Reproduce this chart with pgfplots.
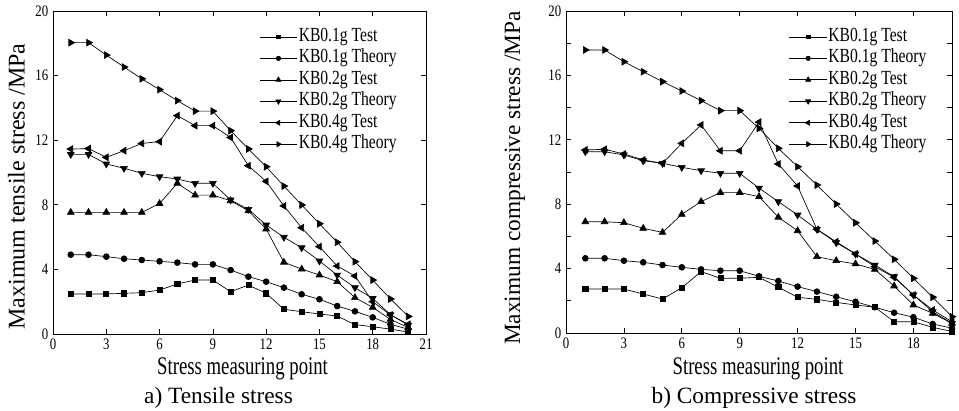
\documentclass[border=0pt]{standalone}
\usepackage{fontspec}
\setmainfont{Liberation Serif}
\newfontfamily\tickfont[FakeStretch=0.8]{Liberation Serif}
\newfontfamily\xlabfont[FakeStretch=0.74]{Liberation Serif}
\newfontfamily\legfont[FakeStretch=0.78]{Liberation Serif}
\usepackage{pgfplots}
\usepackage{pgfplotstable}
\pgfplotsset{compat=1.18}

\pgfplotstableread{
x s1 c1 u2 d2 l4 r4
1 2.48 4.91 7.53 11.12 11.45 18.04
2 2.48 4.91 7.53 11.12 11.48 18.04
3 2.48 4.79 7.53 10.53 10.94 17.27
4 2.52 4.66 7.53 10.26 11.35 16.53
5 2.56 4.58 7.53 9.95 11.80 15.80
6 2.72 4.50 8.08 9.74 11.91 15.13
7 3.10 4.42 9.33 9.60 13.52 14.45
8 3.34 4.31 8.60 9.33 12.90 13.80
9 3.34 4.31 8.60 9.33 12.90 13.80
10 2.62 3.96 8.25 8.30 12.17 12.59
11 3.03 3.55 7.63 7.72 10.42 11.46
12 2.52 3.24 6.50 6.75 9.45 10.36
13 1.53 2.87 4.44 5.99 7.93 9.16
14 1.38 2.46 4.02 5.34 6.58 7.99
15 1.24 2.15 3.65 4.52 5.41 6.83
16 1.11 1.73 3.24 3.65 4.21 5.68
17 0.58 1.40 2.25 2.87 3.59 4.48
18 0.45 1.03 1.65 2.20 2.00 3.34
19 0.30 0.60 0.90 1.20 1.18 2.17
20 0.12 0.30 0.40 0.55 0.60 1.09
}\tensile

\pgfplotstableread{
x s1 c1 u2 d2 l4 r4
1 2.73 4.64 6.91 11.26 11.37 17.58
2 2.73 4.64 6.91 11.26 11.41 17.58
3 2.73 4.49 6.85 11.06 11.12 16.85
4 2.42 4.39 6.50 10.70 10.75 16.23
5 2.11 4.22 6.25 10.54 10.54 15.61
6 2.81 4.08 7.37 10.29 11.78 15.03
7 3.81 3.95 8.16 10.08 12.92 14.43
8 3.40 3.87 8.72 9.92 11.32 13.81
9 3.40 3.87 8.72 9.92 11.32 13.81
10 3.46 3.52 8.47 9.00 13.10 12.71
11 2.84 3.23 7.19 8.16 10.50 11.47
12 2.22 2.88 6.35 7.33 9.13 10.33
13 2.09 2.57 4.74 6.44 6.44 9.19
14 1.90 2.25 4.49 5.61 5.67 8.01
15 1.74 1.94 4.29 4.91 4.91 6.85
16 1.60 1.60 3.95 4.22 4.12 5.71
17 0.70 1.26 2.92 3.50 3.46 4.58
18 0.70 0.98 1.74 2.36 2.36 3.40
19 0.35 0.56 1.22 1.32 1.43 2.22
20 0.10 0.30 0.60 0.60 0.70 1.01
}\compressive

\pgfplotsset{
  chartstyle/.style={
    scale only axis,
    axis line style={line width=0.6pt},
    tick label style={font=\tickfont\fontsize{12}{12}\selectfont},
    /pgf/number format/assume math mode=true,
    tick align=inside,
    major tick length=4pt, minor tick length=4pt,
    every tick/.style={black, line width=0.5pt},
    ymin=0, ymax=20,
    legend cell align=left,
    legend image code/.code={\draw[mark repeat=2,mark phase=2,#1,every mark/.append style={scale=0.75}] plot coordinates {(0pt,0pt) (14pt,0pt) (28pt,0pt)};},
    legend style={draw=none, fill=none, anchor=north west,
      font=\legfont\fontsize{15}{15}\selectfont, row sep=1pt,
      nodes={inner sep=1pt, text height=10pt, text depth=3.1pt}},
  },
  ser/.style={black, line width=0.5pt},
}

\begin{document}
\begin{tikzpicture}
\path[use as bounding box] (0,0) rectangle (719.25pt,307.5pt);

\begin{axis}[chartstyle,
  at={(39.75pt,57pt)}, anchor=south west,
  width=279.75pt, height=242.25pt,
  xmin=0, xmax=21, xtick={0,3,...,21},
  ytick={0,4,...,20},
  legend style={at={(0.542,0.96)}},
]
\addplot[ser, mark=square*, mark size=1.9pt] table[x=x,y=s1]{\tensile};
\addlegendentry{KB0.1g Test}
\addplot[ser, mark=*, mark size=2.2pt] table[x=x,y=c1]{\tensile};
\addlegendentry{KB0.1g Theory}
\addplot[ser, mark=triangle*, mark size=2.9pt] table[x=x,y=u2]{\tensile};
\addlegendentry{KB0.2g Test}
\addplot[ser, mark=triangle*, mark size=2.9pt, mark options={rotate=180}] table[x=x,y=d2]{\tensile};
\addlegendentry{KB0.2g Theory}
\addplot[ser, mark=triangle*, mark size=2.9pt, mark options={rotate=90}] table[x=x,y=l4]{\tensile};
\addlegendentry{KB0.4g Test}
\addplot[ser, mark=triangle*, mark size=2.9pt, mark options={rotate=-90}] table[x=x,y=r4]{\tensile};
\addlegendentry{KB0.4g Theory}
\end{axis}

\begin{axis}[chartstyle,
  at={(424.5pt,57.75pt)}, anchor=south west,
  width=289.5pt, height=241.5pt,
  xmin=0, xmax=20, xtick={0,3,...,18},
  ytick={0,4,...,20}, minor ytick={2,6,...,18},
  legend style={at={(0.567,0.96)}},
]
\addplot[ser, mark=square*, mark size=1.9pt] table[x=x,y=s1]{\compressive};
\addlegendentry{KB0.1g Test}
\addplot[ser, mark=*, mark size=2.2pt] table[x=x,y=c1]{\compressive};
\addlegendentry{KB0.1g Theory}
\addplot[ser, mark=triangle*, mark size=2.9pt] table[x=x,y=u2]{\compressive};
\addlegendentry{KB0.2g Test}
\addplot[ser, mark=triangle*, mark size=2.9pt, mark options={rotate=180}] table[x=x,y=d2]{\compressive};
\addlegendentry{KB0.2g Theory}
\addplot[ser, mark=triangle*, mark size=2.9pt, mark options={rotate=90}] table[x=x,y=l4]{\compressive};
\addlegendentry{KB0.4g Test}
\addplot[ser, mark=triangle*, mark size=2.9pt, mark options={rotate=-90}] table[x=x,y=r4]{\compressive};
\addlegendentry{KB0.4g Theory}
\end{axis}

% axis labels
\node[rotate=90, anchor=base, inner sep=0pt, font=\fontsize{18}{18}\selectfont] at (18.5pt,167.6pt) {Maximum tensile stress /MPa};
\node[rotate=90, anchor=base, inner sep=0pt, font=\fontsize{17.5}{17.5}\selectfont] at (390pt,174pt) {Maximum compressive stress /MPa};
\node[anchor=base, inner sep=0pt, font=\xlabfont\fontsize{19}{19}\selectfont] at (181.9pt,27pt) {Stress measuring point};
\node[anchor=base, inner sep=0pt, font=\xlabfont\fontsize{19}{19}\selectfont] at (568.5pt,27pt) {Stress measuring point};
% captions
\node[anchor=base, inner sep=0pt, font=\fontsize{17.5}{17.5}\selectfont] at (163.9pt,5pt) {a) Tensile stress};
\node[anchor=base, inner sep=0pt, font=\fontsize{17.5}{17.5}\selectfont] at (565.5pt,5pt) {b) Compressive stress};
\end{tikzpicture}
\end{document}
